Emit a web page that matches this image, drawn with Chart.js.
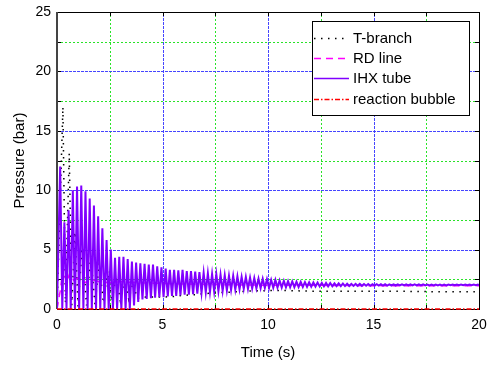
<!DOCTYPE html>
<html>
<head>
<meta charset="utf-8">
<script src="https://cdn.jsdelivr.net/npm/chart.js@4/dist/chart.umd.min.js"></script>
<style>
  body { margin: 0; background: #fff; }
  #wrap { width: 489px; height: 369px; position: relative; }
</style>
</head>
<body>
<div id="wrap"><canvas id="grafico"></canvas></div>
<script>
// ticks (every 2.5, labelled every 5)
const xTicks = [0, 2.5, 5, 7.5, 10, 12.5, 15, 17.5, 20];
const yTicks = [0, 2.5, 5, 7.5, 10, 12.5, 15, 17.5, 20, 22.5, 25];

// [time (s), pressure (bar)]
const tBranch = [
  [0, 0], [0.1, 6], [0.28, 17], [0.4, 0.5], [0.58, 13.1], [0.7, 0.3], [0.85, 6.5], [1.0, 0.2],
  [1.2, 5.5], [1.4, 0.3], [1.6, 4.5], [1.8, 0.4], [2.0, 3.8], [2.2, 0.5], [2.4, 3.2], [2.6, 0.6],
  [2.8, 2.8], [3.0, 0.7], [3.2, 2.5], [3.4, 0.8], [3.6, 2.2], [3.8, 0.9], [4.2, 1.0], [5, 1.0],
  [5.5, 1.05], [6, 1.15], [6.5, 1.2], [7, 1.3], [7.5, 1.35], [8, 1.4], [8.5, 1.45], [9, 1.5],
  [10, 1.55], [11, 1.55], [12, 1.5], [14, 1.5], [16, 1.5], [18, 1.45], [20, 1.45]
];

const rdLine = [
  [0, 0], [0.15, 1.5], [0.3, 3.4], [0.45, 2.2], [0.6, 3.0], [0.8, 2.4], [1.0, 2.6], [1.3, 2.2],
  [1.6, 2.5], [2.0, 2.3], [2.5, 2.2], [3, 2.3], [4, 2.2], [5, 2.15], [6, 2.1], [8, 2.05],
  [10, 2.0], [12, 2.0], [14, 1.97], [16, 1.96], [18, 1.95], [20, 1.95]
];

const ihxTube = [
  [0, 0],
  [0.15, 12.0], [0.25, 0], [0.35, 7.3], [0.45, 0], [0.55, 8.3], [0.65, 0], [0.75, 10.0], [0.85, 0],
  [0.95, 10.3], [1.05, 0], [1.15, 10.4], [1.25, 0], [1.35, 9.9], [1.45, 0], [1.55, 9.3], [1.65, 0],
  [1.75, 8.7], [1.85, 0], [1.95, 7.8], [2.05, 0], [2.15, 6.8], [2.25, 0], [2.35, 5.8], [2.45, 0],
  [2.55, 5.0], [2.65, 0], [2.75, 4.3], [2.85, 0], [2.95, 4.4], [3.05, 0], [3.15, 4.4], [3.25, 0],
  [3.35, 4.2], [3.45, 0], [3.55, 4.0], [3.65, 0.3], [3.75, 3.9], [3.85, 0.6], [3.95, 3.85], [4.05, 0.8],
  [4.15, 3.8], [4.25, 0.85], [4.35, 3.75], [4.45, 0.9], [4.55, 3.75], [4.65, 0.95], [4.75, 3.6], [4.85, 1.0],
  [4.95, 3.5], [5.05, 1.0], [5.15, 3.4], [5.25, 1.05], [5.35, 3.3], [5.45, 1.1], [5.55, 3.3], [5.65, 1.1],
  [5.75, 3.25], [5.85, 1.15], [5.95, 3.3], [6.05, 1.2], [6.15, 3.2], [6.25, 1.2], [6.35, 3.2], [6.45, 1.25],
  [6.55, 3.15], [6.65, 1.3], [6.75, 3.1], [6.85, 1.35], [6.95, 3.05], [7.05, 1.4], [7.15, 3.0], [7.25, 1.42],
  [7.35, 2.95], [7.45, 1.45], [7.55, 2.95], [7.65, 1.5], [7.75, 2.9], [7.85, 1.52], [7.95, 2.85], [8.05, 1.55],
  [8.15, 2.8], [8.25, 1.6], [8.35, 2.8], [8.45, 1.62], [8.55, 2.75], [8.65, 1.65], [8.75, 2.7], [8.85, 1.68],
  [8.95, 2.7], [9.05, 1.7], [9.15, 2.65], [9.25, 1.72], [9.35, 2.6], [9.45, 1.74], [9.55, 2.55], [9.65, 1.75],
  [9.75, 2.55], [9.85, 1.77], [9.95, 2.5], [10.05, 1.78], [10.15, 2.45], [10.25, 1.79], [10.35, 2.45], [10.45, 1.8],
  [10.55, 2.4], [10.65, 1.81], [10.75, 2.38], [10.85, 1.82], [10.95, 2.35], [11.05, 1.83], [11.15, 2.32], [11.25, 1.84],
  [11.35, 2.3], [11.45, 1.85], [11.55, 2.28], [11.65, 1.86], [11.75, 2.26], [11.85, 1.87], [11.95, 2.25], [12.05, 1.88],
  [12.15, 2.23], [12.25, 1.89], [12.35, 2.22], [12.45, 1.9], [12.55, 2.2], [12.65, 1.9], [12.75, 2.19], [12.85, 1.91],
  [12.95, 2.18], [13.05, 1.92], [13.15, 2.16], [13.25, 1.92], [13.35, 2.15], [13.45, 1.93], [13.55, 2.14], [13.65, 1.93],
  [13.75, 2.13], [13.85, 1.94], [13.95, 2.12], [14.05, 1.94], [14.15, 2.11], [14.25, 1.95], [14.35, 2.11], [14.45, 1.95],
  [14.55, 2.1], [14.65, 1.96], [14.75, 2.1], [14.85, 1.96], [14.95, 2.09], [15.05, 1.97], [15.15, 2.09], [15.25, 1.97],
  [15.35, 2.08], [15.45, 1.97], [15.55, 2.08], [15.65, 1.97], [15.75, 2.08], [15.85, 1.98], [15.95, 2.08], [16.05, 1.98],
  [16.15, 2.08], [16.25, 1.98], [16.35, 2.07], [16.45, 1.98], [16.55, 2.07], [16.65, 1.98], [16.75, 2.07], [16.85, 1.98],
  [16.95, 2.07], [17.05, 1.99], [17.15, 2.07], [17.25, 1.99], [17.35, 2.07], [17.45, 1.99], [17.55, 2.06], [17.65, 1.99],
  [17.75, 2.06], [17.85, 1.99], [17.95, 2.06], [18.05, 1.99], [18.15, 2.06], [18.25, 1.99], [18.35, 2.06], [18.45, 1.99],
  [18.55, 2.06], [18.65, 2.0], [18.75, 2.06], [18.85, 2.0], [18.95, 2.06], [19.05, 2.0], [19.15, 2.05], [19.25, 2.0],
  [19.35, 2.05], [19.45, 2.0], [19.55, 2.05], [19.65, 2.0], [19.75, 2.05], [19.85, 2.0], [19.95, 2.05], [20, 2.02]
];

const reactionBubble = [[0, 0], [20, 0]];

const toXY = arr => arr.map(([x, y]) => ({ x: x, y: y }));

const BLUE = "rgba(60,60,255,0.95)";
const GREEN = "rgba(30,225,30,0.95)";

// dotted grid (blue on multiples of 5, green in between), box, inner ticks
const marcoPlugin = {
  id: "marco",
  beforeDatasetsDraw(chart) {
    const { ctx, chartArea: a, scales } = chart;
    ctx.save();
    ctx.lineWidth = 1;
    xTicks.forEach(v => {
      if (v === xTicks[0] || v === xTicks[xTicks.length - 1]) return;
      const px = Math.round(scales.x.getPixelForValue(v)) + 0.5;
      ctx.strokeStyle = v % 5 === 0 ? BLUE : GREEN;
      ctx.setLineDash(v % 5 === 0 ? [3, 1] : [2, 2]);
      ctx.beginPath();
      ctx.moveTo(px, a.bottom); ctx.lineTo(px, a.top);
      ctx.stroke();
    });
    yTicks.forEach(v => {
      if (v === yTicks[0] || v === yTicks[yTicks.length - 1]) return;
      const py = Math.round(scales.y.getPixelForValue(v)) + 0.5;
      ctx.strokeStyle = v % 5 === 0 ? BLUE : GREEN;
      ctx.setLineDash(v % 5 === 0 ? [3, 1] : [2, 2]);
      ctx.beginPath();
      ctx.moveTo(a.left, py); ctx.lineTo(a.right, py);
      ctx.stroke();
    });
    ctx.setLineDash([]);
    ctx.strokeStyle = "#000";
    ctx.beginPath();
    xTicks.forEach(v => {
      const px = Math.round(scales.x.getPixelForValue(v)) + 0.5;
      ctx.moveTo(px, a.bottom); ctx.lineTo(px, a.bottom - 4);
      ctx.moveTo(px, a.top); ctx.lineTo(px, a.top + 4);
    });
    yTicks.forEach(v => {
      const py = Math.round(scales.y.getPixelForValue(v)) + 0.5;
      ctx.moveTo(a.left, py); ctx.lineTo(a.left + 4, py);
      ctx.moveTo(a.right, py); ctx.lineTo(a.right - 4, py);
    });
    ctx.stroke();
    ctx.strokeRect(Math.round(a.left) + 0.5, Math.round(a.top) + 0.5,
      Math.round(a.right - a.left), Math.round(a.bottom - a.top));
    ctx.strokeStyle = "#444";
    ctx.lineWidth = 2;
    ctx.beginPath();
    ctx.moveTo(Math.round(a.left), a.top);
    ctx.lineTo(Math.round(a.left), a.bottom);
    ctx.stroke();
    ctx.restore();
  }
};

// legend box inside the axes, top right
const leyendaPlugin = {
  id: "leyenda",
  afterDraw(chart) {
    const { ctx, chartArea: a } = chart;
    const x0 = a.right - 167, y0 = a.top + 9, w = 157, h = 94;
    ctx.save();
    ctx.fillStyle = "#fff";
    ctx.fillRect(x0, y0, w, h);
    ctx.strokeStyle = "#000";
    ctx.lineWidth = 1;
    ctx.strokeRect(Math.round(x0) + 0.5, Math.round(y0) + 0.5, w, h);
    ctx.font = "15px 'Liberation Sans', Arial, sans-serif";
    ctx.textBaseline = "middle";
    chart.data.datasets.forEach((ds, i) => {
      const yy = Math.round(y0 + 17 + i * 20.2) + 0.5;
      ctx.strokeStyle = ds.borderColor;
      ctx.lineWidth = Math.min(ds.borderWidth, 1.5);
      ctx.setLineDash(ds.borderDash || []);
      ctx.beginPath();
      ctx.moveTo(x0 + 2, yy);
      ctx.lineTo(x0 + 37, yy);
      ctx.stroke();
      ctx.setLineDash([]);
      ctx.fillStyle = "#000";
      ctx.fillText(ds.label, x0 + 41, yy);
    });
    ctx.restore();
  }
};

Chart.defaults.font.family = "'Liberation Sans', Arial, sans-serif";
Chart.defaults.font.size = 14;
Chart.defaults.color = "#000";

new Chart(document.getElementById("grafico"), {
  type: "line",
  data: {
    datasets: [
      {
        label: "T-branch",
        data: toXY(tBranch),
        borderColor: "#000",
        borderWidth: 1.5,
        borderDash: [1.5, 5.5],
        order: 4
      },
      {
        label: "RD line",
        data: toXY(rdLine),
        borderColor: "#ff00ff",
        borderWidth: 1.5,
        borderDash: [7, 5],
        order: 3
      },
      {
        label: "IHX tube",
        data: toXY(ihxTube),
        borderColor: "#8000ff",
        borderWidth: 2,
        order: 2
      },
      {
        label: "reaction bubble",
        data: toXY(reactionBubble),
        borderColor: "#ff0000",
        borderWidth: 1.5,
        borderDash: [5, 2, 1.5, 2],
        clip: 3,
        order: 1
      }
    ]
  },
  options: {
    responsive: true,
    maintainAspectRatio: false,
    animation: false,
    layout: { padding: { top: 12, right: 10, left: 0, bottom: 0 } },
    elements: {
      point: { radius: 0 },
      line: { tension: 0, fill: false }
    },
    plugins: {
      legend: { display: false },
      tooltip: { enabled: false }
    },
    scales: {
      x: {
        type: "linear",
        min: 0,
        max: 20,
        afterFit: s => { s.height = 60; s.paddingLeft = 0; s.paddingRight = 0; },
        afterBuildTicks: s => { s.ticks = xTicks.map(v => ({ value: v })); },
        ticks: {
          padding: 8,
          maxRotation: 0,
          autoSkip: false,
          callback: v => (v % 5 === 0 ? v : "")
        },
        grid: { drawOnChartArea: false, drawTicks: false },
        border: { display: false },
        title: { display: true, text: "Time (s)", font: { size: 15 }, padding: { top: 0, bottom: 7 } }
      },
      y: {
        min: 0,
        max: 25,
        afterFit: s => { s.width = 57; s.paddingTop = 0; s.paddingBottom = 0; },
        afterBuildTicks: s => { s.ticks = yTicks.map(v => ({ value: v })); },
        ticks: {
          padding: 6,
          autoSkip: false,
          callback: v => (v % 5 === 0 ? v : "")
        },
        grid: { drawOnChartArea: false, drawTicks: false },
        border: { display: false },
        title: { display: true, text: "Pressure (bar)", font: { size: 15 }, padding: { top: 11, bottom: 0 } }
      }
    }
  },
  plugins: [marcoPlugin, leyendaPlugin]
});
</script>
</body>
</html>
